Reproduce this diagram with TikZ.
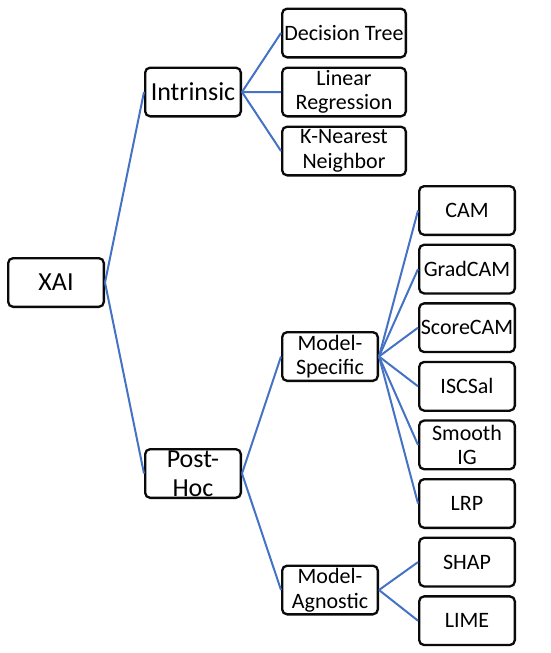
\documentclass[tikz,border=0pt]{standalone}
\usepackage{fontspec}
\setmainfont{Carlito}
\usepackage{xcolor}
\usetikzlibrary{positioning}
\definecolor{xaiBlue}{RGB}{68,114,196}
\definecolor{xaiDark}{RGB}{10,10,10}

\begin{document}
\begin{tikzpicture}[x=1pt, y=-1pt, node distance=7.6pt,
mainbox/.style={rectangle, rounded corners=5pt, draw=xaiDark, line width=2.3pt,
fill=white, minimum width=95.7pt, minimum height=48.7pt, inner sep=1pt,
align=center, font=\fontsize{26}{28}\selectfont},
leafbox/.style={rectangle, rounded corners=5pt, draw=xaiDark, line width=2.3pt,
fill=white, minimum width=95.7pt, minimum height=48.7pt, inner sep=1pt,
align=center, font=\fontsize{22}{24.5}\selectfont},
link/.style={draw=xaiBlue, line width=2pt}]

\useasboundingbox (0,0) rectangle (550,653);

\node[mainbox] (xai) at (56,282.5) {XAI};
\node[mainbox] (intrinsic) at (193,92) {Intrinsic};
\node[mainbox, font=\fontsize{26}{29}\selectfont] (posthoc) at (193,473.5) {Post-\\Hoc};

\node[leafbox, minimum width=123.7pt] (dtree) at (344,33) {Decision Tree};
\node[leafbox, minimum width=123.7pt, below=8pt of dtree] (linreg) {Linear\\Regression};
\node[leafbox, minimum width=123.7pt, below=8pt of linreg] (knn) {K-Nearest\\Neighbor};

\node[leafbox] (mspec) at (330,356.5) {Model-\\Specific};
\node[leafbox] (magn) at (330,590) {Model-\\Agnostic};

\node[leafbox] (cam) at (467,210.5) {CAM};
\node[leafbox, below=of cam] (gradcam) {GradCAM};
\node[leafbox, below=of gradcam] (scorecam) {ScoreCAM};
\node[leafbox, below=of scorecam] (iscsal) {ISCSal};
\node[leafbox, below=of iscsal] (smoothig) {Smooth\\IG};
\node[leafbox, below=of smoothig] (lrp) {LRP};
\node[leafbox, below=of lrp] (shap) {SHAP};
\node[leafbox, below=of shap] (lime) {LIME};

\draw[link] (xai.east) -- (intrinsic.west);
\draw[link] (xai.east) -- (posthoc.west);
\draw[link] (intrinsic.east) -- (dtree.west);
\draw[link] (intrinsic.east) -- (linreg.west);
\draw[link] (intrinsic.east) -- (knn.west);
\draw[link] (posthoc.east) -- (mspec.west);
\draw[link] (posthoc.east) -- (magn.west);
\foreach \leaf in {cam, gradcam, scorecam, iscsal, smoothig, lrp}
  \draw[link] (mspec.east) -- (\leaf.west);
\draw[link] (magn.east) -- (shap.west);
\draw[link] (magn.east) -- (lime.west);
\end{tikzpicture}
\end{document}
